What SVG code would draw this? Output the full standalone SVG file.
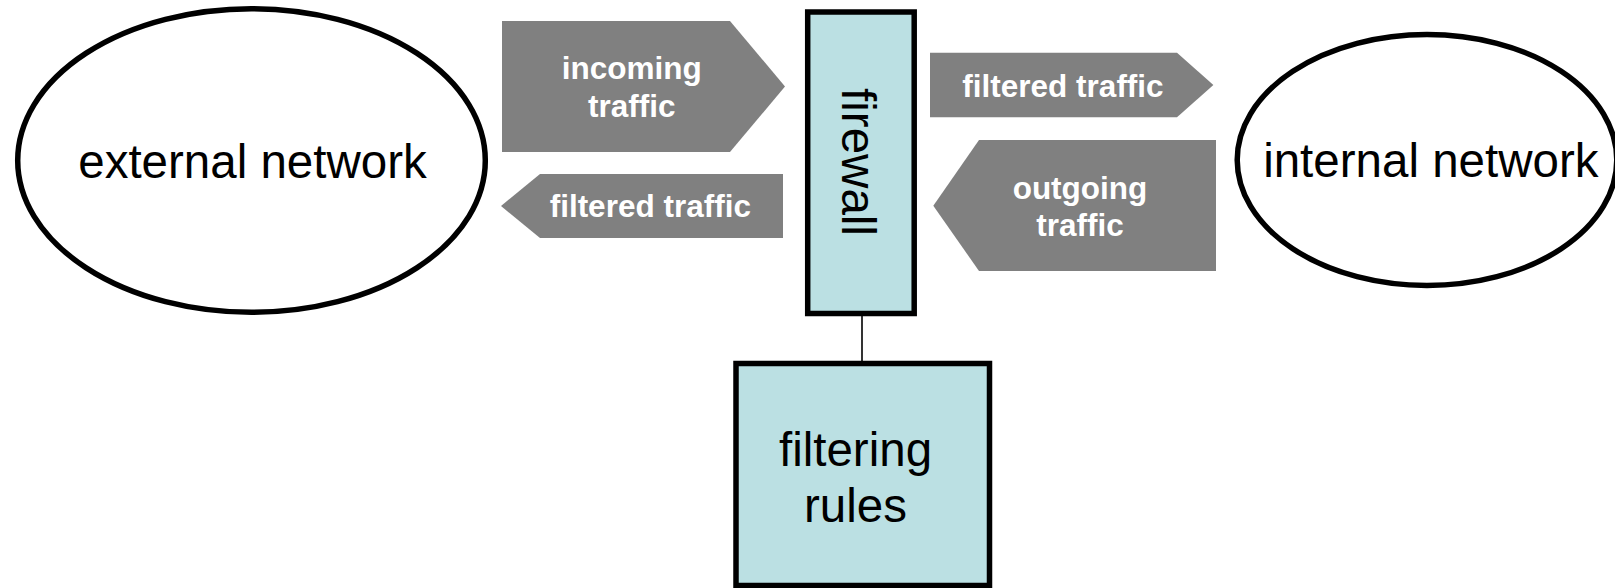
<svg xmlns="http://www.w3.org/2000/svg" width="1615" height="588" viewBox="0 0 1615 588">
  <style>
    .bg { fill: #ffffff; }
    .net { fill: #ffffff; stroke: #000000; stroke-width: 5.5; }
    .box { fill: #bbe0e3; stroke: #000000; stroke-width: 5.5; }
    .flow { fill: #808080; stroke: none; }
    .link { stroke: #000000; stroke-width: 1.6; fill: none; }
    .big { font-family: "Liberation Sans", Arial, sans-serif; font-size: 47.5px; fill: #000000; text-anchor: middle; }
    .lbl { font-family: "Liberation Sans", Arial, sans-serif; font-size: 31.5px; font-weight: bold; fill: #ffffff; text-anchor: middle; }
  </style>

  <rect class="bg" x="0" y="0" width="1615" height="588"/>

  <!-- connectors -->
  <g id="connectors">
    <line class="link" x1="862" y1="314" x2="862" y2="363"/>
  </g>

  <!-- traffic flow arrows -->
  <g id="incoming-traffic">
    <polygon class="flow" points="502,21 730,21 785,86.5 730,152 502,152"/>
    <text class="lbl" x="631.7" y="79.3">incoming</text>
    <text class="lbl" x="631.7" y="116.7">traffic</text>
  </g>

  <g id="filtered-traffic-out">
    <polygon class="flow" points="501,206 540,174 783,174 783,238 540,238"/>
    <text class="lbl" x="650.3" y="216.7">filtered traffic</text>
  </g>

  <g id="filtered-traffic-in">
    <polygon class="flow" points="930,52.7 1177,52.7 1213.4,85 1177,117.3 930,117.3"/>
    <text class="lbl" x="1063" y="96.7">filtered traffic</text>
  </g>

  <g id="outgoing-traffic">
    <polygon class="flow" points="933.3,205.7 979,140 1216,140 1216,271 979,271"/>
    <text class="lbl" x="1080" y="199.3">outgoing</text>
    <text class="lbl" x="1080" y="236">traffic</text>
  </g>

  <!-- networks -->
  <g id="external-network">
    <ellipse class="net" cx="251.5" cy="160.5" rx="233.8" ry="151.8"/>
    <text class="big" x="252.5" y="178.3">external network</text>
  </g>

  <g id="internal-network">
    <ellipse class="net" cx="1427" cy="160" rx="189.8" ry="125.5"/>
    <text class="big" x="1430.8" y="176.7">internal network</text>
  </g>

  <!-- firewall -->
  <g id="firewall">
    <rect class="box" x="807.7" y="12" width="106.5" height="301.5"/>
    <text class="big" transform="translate(841.7,162) rotate(90)" x="0" y="0">firewall</text>
  </g>

  <g id="filtering-rules">
    <rect class="box" x="736" y="363.5" width="253.5" height="222"/>
    <text class="big" x="855.5" y="465.7">filtering</text>
    <text class="big" x="855.5" y="521.7">rules</text>
  </g>
</svg>
